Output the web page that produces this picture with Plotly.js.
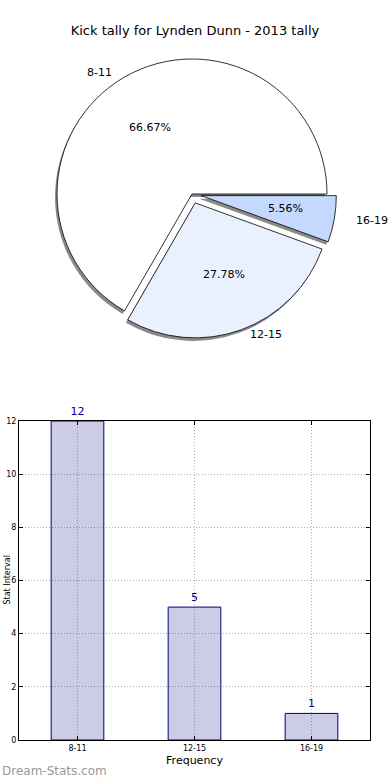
<!DOCTYPE html>
<html>
<head>
<meta charset="utf-8">
<script src="https://cdn.plot.ly/plotly-3.0.1.min.js"></script>
<style>
html,body{margin:0;padding:0;background:#fff;}
#chart{width:390px;height:780px;}
</style>
</head>
<body>
<div id="chart"></div>
<script>
// ---- data ----
const categories = ['8-11', '12-15', '16-19'];
const counts = [12, 5, 1];
const pieColors = ['#ffffff', '#eaf1fe', '#c5d9fe'];
const explode = [0, 0.07, 0.07];
const yTicks = [0, 2, 4, 6, 8, 10, 12];
const chartTitle = 'Kick tally for Lynden Dunn - 2013 tally';
const xTitle = 'Frequency';
const yTitle = 'Stat Interval';
const watermark = 'Dream-Stats.com';

const FONT = 'DejaVu Sans, sans-serif';
const W = 390, H = 780;

// pie geometry (paper coords)
const pcx = 192 / W, pcy = 1 - 194 / H;
const rPx = 135;
const maxPull = Math.max(...explode);
const half = rPx * (1 + maxPull);
const pieDomain = {
  x: [pcx - half / W, pcx + half / W],
  y: [pcy - half / H, pcy + half / H]
};
const shadowDomain = {
  x: [pieDomain.x[0] - 2 / W, pieDomain.x[1] - 2 / W],
  y: [pieDomain.y[0] - 3 / H, pieDomain.y[1] - 3 / H]
};
// first slice starts at 3 o'clock and runs counterclockwise;
// plotly anchors the first slice's clockwise edge at "rotation"
const total = counts.reduce((a, b) => a + b, 0);
const pieRotation = 90 - counts[0] / total * 360;

const shadow = {
  type: 'pie', labels: categories, values: counts, sort: false,
  direction: 'counterclockwise', rotation: pieRotation, pull: explode,
  domain: shadowDomain, textinfo: 'none', hoverinfo: 'skip',
  marker: {colors: categories.map(() => '#8a8a8a'), line: {width: 0}},
  showlegend: false
};
const pie = {
  type: 'pie', labels: categories, values: counts, sort: false,
  direction: 'counterclockwise', rotation: pieRotation, pull: explode,
  domain: pieDomain, textinfo: 'none',
  marker: {colors: pieColors, line: {color: '#000000', width: 0.8}},
  showlegend: false
};

const bars = {
  type: 'bar', x: categories, y: counts, width: 0.45,
  marker: {color: 'rgba(0,0,128,0.2)', line: {color: '#000080', width: 1}},
  text: counts.map(String), textposition: 'outside', cliponaxis: false,
  textfont: {family: FONT, size: 11, color: '#000080'},
  xaxis: 'x', yaxis: 'y', showlegend: false
};

// pie labels from data
const rx = 141 / W, ry = 128 / H;
const annotations = [];
let cum = 0;
counts.forEach((v, i) => {
  const a0 = cum / total * 2 * Math.PI;
  cum += v;
  const a1 = cum / total * 2 * Math.PI;
  const mid = (a0 + a1) / 2;
  const e = explode[i];
  const c = Math.cos(mid), s = Math.sin(mid);
  annotations.push({
    xref: 'paper', yref: 'paper', x: pcx + (0.6 + e) * c * rx, y: pcy + (0.6 + e) * s * ry,
    xanchor: 'center', yanchor: 'middle', showarrow: false,
    text: (v / total * 100).toFixed(2) + '%', font: {family: FONT, size: 11, color: '#000'}
  });
  annotations.push({
    xref: 'paper', yref: 'paper', x: pcx + (1.1 + e) * c * rx, y: pcy + (1.1 + e) * s * ry,
    xanchor: c > 0 ? 'left' : 'right', yanchor: 'middle', showarrow: false,
    text: categories[i], font: {family: FONT, size: 11, color: '#000'}
  });
});
annotations.push({
  xref: 'paper', yref: 'paper', x: 0, y: 1 - 580 / H, xanchor: 'left', yanchor: 'middle',
  textangle: -90, showarrow: false, text: yTitle, font: {family: FONT, size: 8, color: '#000'}
});
annotations.push({
  xref: 'paper', yref: 'paper', x: 0, y: 1 - 771 / H, xanchor: 'left', yanchor: 'middle',
  showarrow: false, text: watermark, font: {family: FONT, size: 12, color: '#999999'}
});

const axisCommon = {
  showline: true, linecolor: '#000', linewidth: 1, mirror: 'ticks',
  ticks: 'inside', ticklen: 4, tickcolor: '#000',
  showgrid: true, gridcolor: '#b0b0b0', griddash: '1px,2px', gridwidth: 1,
  zeroline: false, tickfont: {family: FONT, size: 8, color: '#000'}
};

const layout = {
  width: W, height: H, margin: {l: 0, r: 0, t: 0, b: 0},
  paper_bgcolor: '#fff', plot_bgcolor: '#fff',
  title: {text: chartTitle, x: 0.5, xanchor: 'center', y: 1 - 30 / H, yanchor: 'middle', yref: 'container',
    font: {family: FONT, size: 13, color: '#000'}},
  xaxis: Object.assign({}, axisCommon, {
    domain: [19 / W, 370 / W], range: [-0.5, 2.5], type: 'category', anchor: 'y',
    title: {text: xTitle, font: {family: FONT, size: 11, color: '#000'}, standoff: 4}
  }),
  yaxis: Object.assign({}, axisCommon, {
    domain: [1 - 740 / H, 1 - 421 / H], range: [0, 12], tickvals: yTicks, anchor: 'x'
  }),
  annotations: annotations,
  showlegend: false
};

Plotly.newPlot('chart', [shadow, pie, bars], layout, {staticPlot: true});
</script>
</body>
</html>
